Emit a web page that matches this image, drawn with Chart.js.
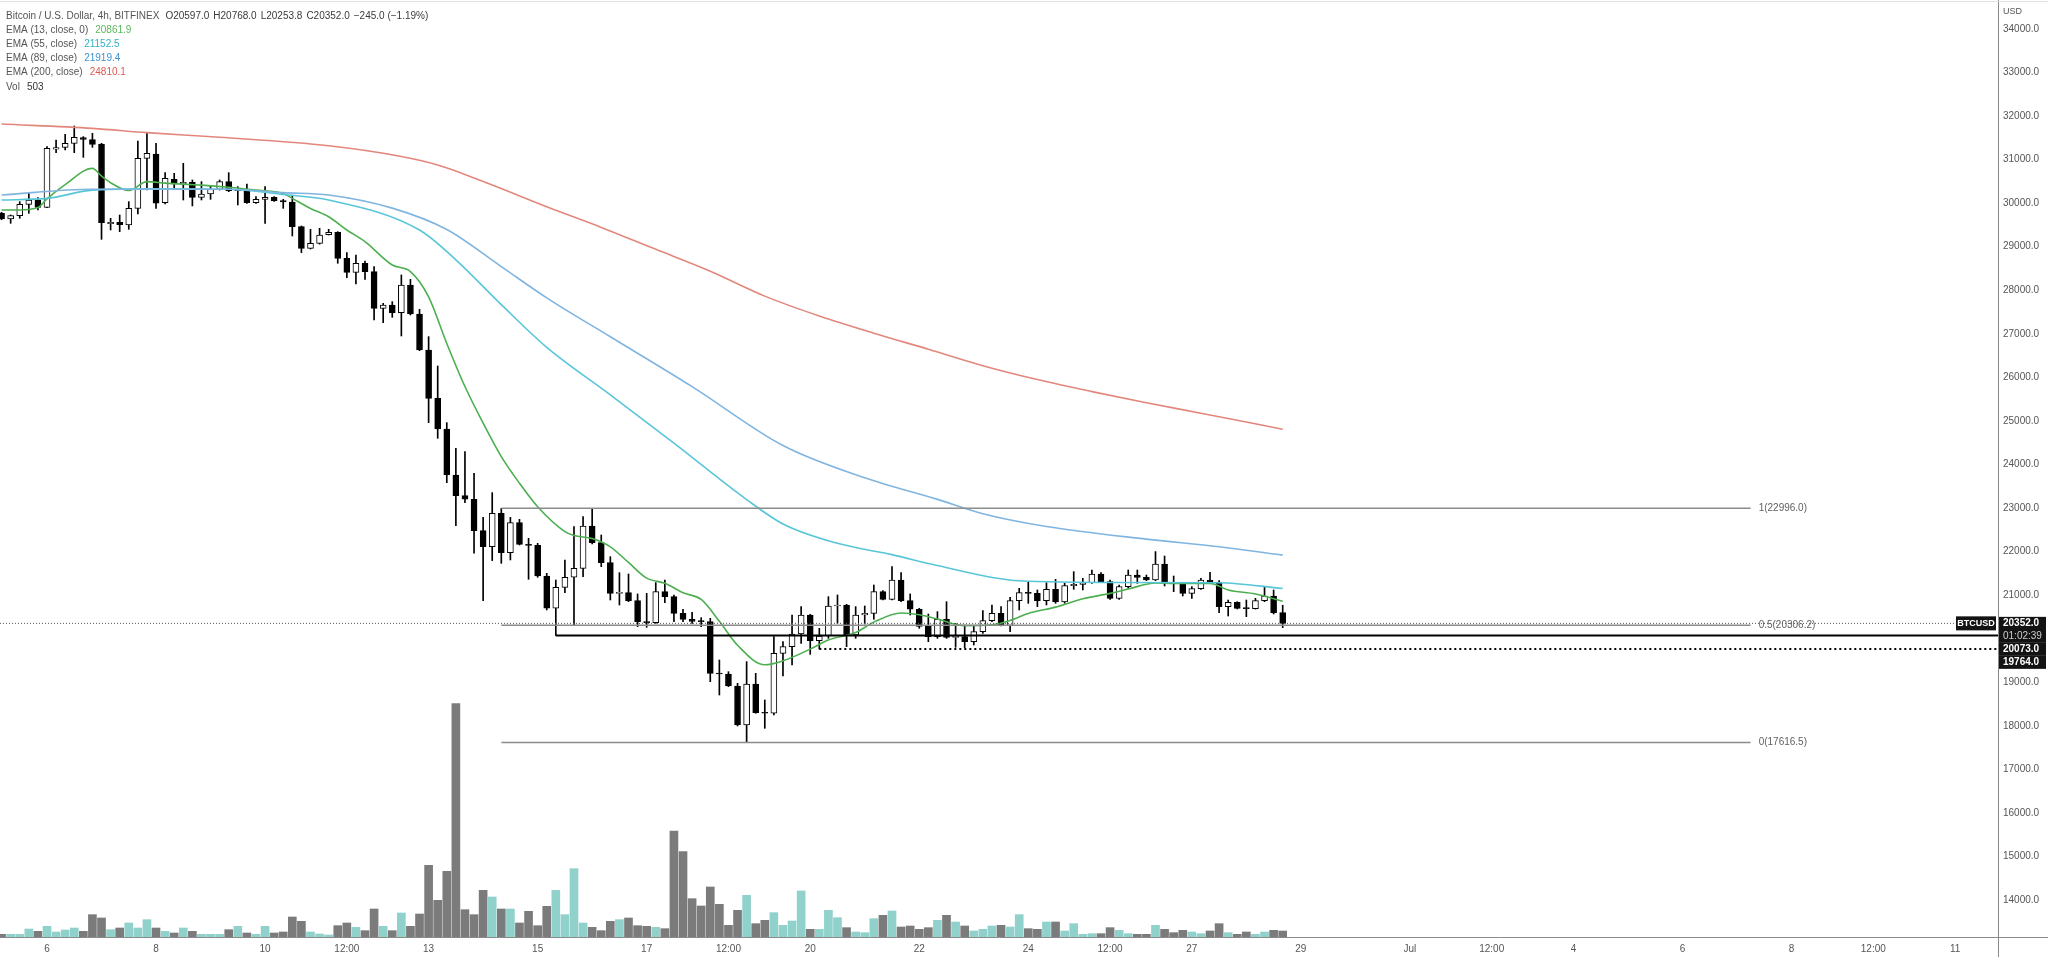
<!DOCTYPE html>
<html>
<head>
<meta charset="utf-8">
<script src="https://cdn.jsdelivr.net/npm/chart.js@4.4.1/dist/chart.umd.min.js"></script>
<style>
  html, body { margin: 0; padding: 0; background: #fff; overflow: hidden; }
  #wrap { position: relative; width: 2048px; height: 957px; }
</style>
</head>
<body>
<div id="wrap"><canvas id="chart"></canvas></div>
<script>
// BTCUSD Bitfinex 4h. x unit = hours since 5 Jun 00:00, candle i opens at firstCandleHour + 4*i
const firstCandleHour = 4;

const opens = [
  29768,29638,29714,29974,30074,29905,31240,31283,31375,31505,
  31459,31360,29530,29561,29500,29882,31030,31130,30013,30548,
  30441,30480,30135,30212,30319,30495,30288,30319,30013,30089,
  30135,30059,30028,29462,28964,29079,29278,29331,28734,28413,
  28620,28428,27586,27663,27487,28122,27456,26630,25520,24816,
  23759,23285,23201,22481,22114,22879,21976,22665,22167,22144,
  21440,20698,21180,21410,21616,22588,22206,21747,21042,21057,
  20874,20391,20368,21080,20965,20583,20445,20399,20391,19205,
  19190,18914,18019,18960,18302,18287,19664,19817,20108,20544,
  19955,20062,20751,20774,20085,20544,20583,21080,20904,21348,
  20874,20675,20284,20047,20444,20031,20047,19932,20161,20414,
  20582,20307,20873,21057,21040,20873,21133,20842,21217,21248,
  21286,21485,21309,20927,21194,21462,21409,21348,21715,21294,
  21270,21041,21148,21347,21300,20735,20835,20697,20690,20873,
  20980,20597
];
const highs = [
  29790,29730,30036,30227,30127,31298,31450,31580,31773,31528,
  31604,31375,29653,29729,30036,31428,31605,31375,30701,30686,
  30916,30533,30495,30395,30533,30701,30380,30441,30150,30380,
  30150,30089,30166,29477,29400,29423,29400,29347,28865,28811,
  28673,28543,27701,27739,28352,28252,27563,26936,26262,24961,
  24372,24295,23798,22787,23354,22994,22787,22741,22305,22190,
  21501,21348,21807,22573,22803,22996,22381,21884,21516,21486,
  21027,21042,21287,21348,21004,20675,20606,20483,20468,19511,
  19243,18975,19473,19205,18593,20047,19932,20544,20736,20560,
  20238,20965,21004,20790,20736,20751,21233,21103,21654,21517,
  21027,20698,20567,20620,20850,20352,20314,20291,20643,20773,
  20735,20949,21156,21309,21118,21286,21363,21271,21539,21386,
  21577,21516,21347,21233,21577,21577,21462,22000,21898,21439,
  21286,21194,21386,21524,21332,20888,20850,20888,20927,21194,
  21118,20768
];
const lows = [
  29620,29538,29653,29768,29844,29898,31160,31222,31160,31053,
  31283,29170,29385,29347,29400,29752,30303,29882,29982,30342,
  30074,29936,30074,30089,30303,30265,29960,29997,29997,29538,
  30043,29882,29247,28865,28949,29060,29270,28620,28290,28145,
  28252,27318,27257,27380,26951,27433,26614,24961,24601,23583,
  22596,23124,21961,20874,21793,21731,21808,22152,21364,21410,
  20660,20073,21057,20315,21425,22175,21654,20889,20774,20851,
  20277,20261,20353,20827,20391,20391,20353,20277,19013,18707,
  18899,17996,17616.5,18287,17942,18248,19144,19396,19894,19641,
  19764,20009,20353,19817,20009,20338,20445,20889,20889,20851,
  20544,20238,19932,20008,20008,19802,19790,19855,20123,20391,
  20291,20161,20659,20812,20735,20773,20812,20812,21133,21118,
  21271,21294,20904,20904,21156,21271,21332,21332,21210,21080,
  20980,20927,21133,21271,20597,20521,20682,20506,20680,20850,
  20567,20253.8
];
const closes = [
  29638,29714,29974,30074,29905,31260,31280,31375,31513,31467,
  31352,29553,29560,29507,29882,31030,31145,30000,30571,30441,
  30480,30135,30212,30319,30495,30288,30319,30013,30089,30135,
  30059,30028,29462,28964,29079,29270,29331,28734,28413,28620,
  28428,27586,27663,27487,28122,27456,26630,25520,24816,23759,
  23285,23201,22481,22114,22879,21976,22665,22167,22144,21440,
  20698,21180,21410,21616,22588,22206,21747,21042,21057,20874,
  20391,20368,21080,20965,20583,20445,20399,20391,19205,19190,
  18914,18019,18960,18302,18287,19664,19817,20108,20544,19955,
  20062,20751,20774,20085,20544,20583,21080,20904,21348,20874,
  20675,20284,20047,20444,20031,20047,19932,20161,20414,20582,
  20307,20873,21057,21040,20873,21133,20842,21217,21248,21286,
  21485,21309,20927,21194,21462,21409,21348,21715,21294,21270,
  21041,21148,21347,21300,20735,20835,20697,20690,20873,20980,
  20597,20352
];
const volumes = [
  224,224,224,672,476,896,420,588,756,476,
  1876,1596,616,756,1176,756,1456,756,476,336,
  756,476,224,224,224,616,896,336,224,896,
  336,420,1680,1316,420,252,168,952,1176,812,
  532,2352,896,532,2016,896,1932,6020,3080,5516,
  19600,2296,1876,3920,3360,2352,2352,1176,2156,952,
  2576,3920,1876,5740,1176,812,532,1316,1456,1596,
  952,896,812,700,8904,7168,3220,2604,4200,2744,
  980,2240,3500,1120,1400,2044,980,1344,3864,644,
  644,2240,1624,784,420,364,1540,1820,2184,840,
  924,644,784,1400,1820,1260,924,504,644,924,
  980,840,1876,700,644,1260,1260,504,1120,224,
  280,280,784,560,280,224,224,980,644,364,
  560,420,280,504,1120,364,224,420,224,420,
  560,503
];

// EMA curves: candle index -> value
const ema13Idx = [0,2,4,5,7,10,11,12,14,16,18,22,25,28,31,32,34,36,38,40,43,45,47,49,51,53,55,57,59,62,63,65,67,69,71,73,75,77,79,81,84,86,89,91,94,96,99,101,103,106,109,111,113,116,119,122,124,127,129,133,135,138,141];
const ema13Val = [29845,29845,29900,30100,30425,30800,30620,30470,30290,30495,30460,30415,30365,30300,30225,30110,29880,29690,29385,29117,28580,28430,27850,26780,25790,24950,24180,23570,23030,22460,22370,22300,22110,21750,21390,21272,21055,20900,20400,19850,19400,19491,19760,19970,20140,20380,20590,20550,20450,20300,20320,20420,20580,20725,20915,21040,21140,21280,21271,21271,21120,21026,20862];
const ema55Idx = [0,5,10,16,25,31,36,46,50,55,60,67,74,82,86,92,98,103,112,123,134,141];
const ema55Val = [30074,30110,30300,30330,30319,30200,30074,29385,28700,27670,26690,25600,24490,23195,22635,22190,21930,21680,21330,21290,21286,21152];
const ema89Idx = [0,10,25,31,36,43,49,55,60,67,76,86,95,103,108,115,126,134,141];
const ema89Val = [30189,30319,30319,30242,30189,29887,29396,28544,27827,26933,25788,24435,23693,23199,22871,22577,22287,22112,21919];
const ema200Idx = [0,10,16,24,36,44,48,54,60,66,72,78,84,90,96,102,108,114,120,126,132,141];
const ema200Val = [31819,31719,31620,31515,31320,31074,30879,30417,29917,29444,28940,28438,27866,27409,27015,26646,26269,25950,25674,25418,25178,24810];

const emaNames = ['EMA (13, close, 0)', 'EMA (55, close)', 'EMA (89, close)', 'EMA (200, close)'];
const emaLast = ['20861.9', '21152.5', '21919.4', '24810.1'];

// drawings on the chart
const fibRatios = ['1', '0.5', '0'];
const fibLevels = [22996.0, 20306.2, 17616.5];
const fibStartCandle = 55;
const fibEndHour = 774;
const rayLevel = 20073.0, rayStartCandle = 61;
const dotLevel = 19764.0, dotStartCandle = 90;
const lastClose = 20352.0;
const countdown = '01:02:39';
const symbolTag = 'BTCUSD';
const legendTitle = 'Bitcoin / U.S. Dollar, 4h, BITFINEX';
const legendOhlc = ['O20597.0', 'H20768.0', 'L20253.8', 'C20352.0', '\u2212245.0 (\u22121.19%)'];
const legendVol = '503';

// axes
const yTicks = [14000,15000,16000,17000,18000,19000,20000,21000,22000,23000,24000,25000,26000,27000,28000,29000,30000,31000,32000,33000,34000];
const xTickHours = [24,72,120,156,192,240,288,324,360,408,456,492,528,576,624,660,696,744,792,828,864];
const xTickLabels = ['6','8','10','12:00','13','15','17','12:00','20','22','24','12:00','27','29','Jul','12:00','4','6','8','12:00','11'];

const FONT = '"Liberation Sans", Arial, sans-serif';
const UP_VOL = '#90d1cb', DOWN_VOL = '#7b7b7b';
const EMA_LINE = ['#4caf50', '#58c6d8', '#80b5e0', '#e3877d'];
const EMA_TEXT = ['#5cb85c', '#2fb3c5', '#3d92cf', '#df5a50'];

const hourOf = i => firstCandleHour + 4 * i;
const xMin = 3.31, xMax = 882.9;

const wickData = highs.map((h, i) => ({ x: hourOf(i), y: [lows[i], h] }));
const bodyData = opens.map((o, i) => ({ x: hourOf(i), y: [o, closes[i]] }));
const volData = volumes.map((v, i) => ({ x: hourOf(i), y: v }));
const isUp = closes.map((c, i) => c >= opens[i]);

function emaSet(idx, val, color, label) {
  return {
    type: 'line', label, order: 1,
    data: idx.map((k, j) => ({ x: hourOf(k), y: val[j] })),
    borderColor: color, borderWidth: 1.6, pointRadius: 0,
    cubicInterpolationMode: 'monotone', fill: false
  };
}
function hLine(x0, x1, level, color, width, dash, order) {
  return {
    type: 'line', order,
    data: [{ x: x0, y: level }, { x: x1, y: level }],
    borderColor: color, borderWidth: width, borderDash: dash,
    pointRadius: 0, fill: false
  };
}

const datasets = [
  {
    type: 'bar', label: 'Vol', order: 4, yAxisID: 'yv',
    data: volData, grouped: false, barThickness: 8,
    backgroundColor: isUp.map(u => u ? UP_VOL : DOWN_VOL)
  },
  {
    type: 'bar', label: 'wick', order: 3,
    data: wickData, grouped: false, barThickness: 1,
    backgroundColor: '#000'
  },
  {
    type: 'bar', label: 'body', order: 2,
    data: bodyData, grouped: false, barThickness: 6, minBarLength: 1,
    backgroundColor: isUp.map(u => u ? '#ffffff' : '#000000'),
    borderColor: '#000', borderWidth: 1, borderSkipped: false
  },
  emaSet(ema200Idx, ema200Val, EMA_LINE[3], 'EMA200'),
  emaSet(ema89Idx, ema89Val, EMA_LINE[2], 'EMA89'),
  emaSet(ema55Idx, ema55Val, EMA_LINE[1], 'EMA55'),
  emaSet(ema13Idx, ema13Val, EMA_LINE[0], 'EMA13'),
  hLine(xMin, xMax, lastClose, '#555', 1, [1, 2], 0),
  ...fibLevels.map(lv => hLine(hourOf(fibStartCandle), fibEndHour, lv, '#8c8c8c', 1.5, [], 0)),
  hLine(hourOf(rayStartCandle), xMax, rayLevel, '#000', 2, [], 0),
  hLine(hourOf(dotStartCandle), xMax, dotLevel, '#000', 2, [2, 3], 0)
];

const overlay = {
  id: 'overlay',
  afterDraw(chart) {
    const { ctx, chartArea: a } = chart;
    const x = chart.scales.x, y = chart.scales.y;
    ctx.save();

    // frame extensions into the axis corner, faint top rule
    ctx.strokeStyle = '#8a8a8a'; ctx.lineWidth = 1;
    ctx.beginPath();
    ctx.moveTo(a.right, a.bottom + 0.5); ctx.lineTo(chart.width, a.bottom + 0.5);
    ctx.moveTo(a.right + 0.5, a.bottom); ctx.lineTo(a.right + 0.5, chart.height);
    ctx.stroke();
    ctx.strokeStyle = '#e2e2e2';
    ctx.beginPath(); ctx.moveTo(0, 1.5); ctx.lineTo(chart.width, 1.5); ctx.stroke();

    ctx.textBaseline = 'middle';
    ctx.textAlign = 'left';

    // currency
    ctx.font = '9px ' + FONT; ctx.fillStyle = '#555';
    ctx.fillText('USD', a.right + 5, 12);

    // fib labels
    ctx.font = '10px ' + FONT; ctx.fillStyle = '#606060';
    fibLevels.forEach((lv, k) => {
      ctx.fillText(fibRatios[k] + '(' + lv.toFixed(1) + ')', x.getPixelForValue(fibEndHour) + 8, y.getPixelForValue(lv));
    });

    // symbol tag on the last price line
    const py = y.getPixelForValue(lastClose);
    ctx.fillStyle = '#131313';
    ctx.fillRect(a.right - 42, py - 7, 40, 14);
    ctx.fillStyle = '#fff'; ctx.font = 'bold 9px ' + FONT; ctx.textAlign = 'center';
    ctx.fillText(symbolTag, a.right - 22, py + 0.5);

    // price tags on the axis
    ctx.textAlign = 'left';
    const tags = [
      { price: lastClose, lines: [lastClose.toFixed(1), countdown] },
      { price: rayLevel, lines: [rayLevel.toFixed(1)] },
      { price: dotLevel, lines: [dotLevel.toFixed(1)] }
    ];
    let prevBottom = -Infinity;
    tags.forEach(t => {
      const h = 13 * t.lines.length;
      const top = Math.max(y.getPixelForValue(t.price) - 6.5, prevBottom);
      ctx.fillStyle = '#131313';
      ctx.fillRect(a.right + 1, top, chart.width - a.right - 3, h);
      t.lines.forEach((s, j) => {
        ctx.fillStyle = j ? '#cfcfcf' : '#fff';
        ctx.font = (j ? '' : 'bold ') + '10px ' + FONT;
        ctx.fillText(s, a.right + 5, top + 6.5 + 13 * j);
      });
      prevBottom = top + h;
    });

    // legend block, top-left
    const run = (parts, yy) => {
      let cx = 6;
      parts.forEach(([txt, col, gap]) => {
        ctx.fillStyle = col;
        ctx.fillText(txt, cx, yy);
        cx += ctx.measureText(txt).width + (gap || 0);
      });
    };
    ctx.font = '10px ' + FONT;
    run([[legendTitle, '#555', 6]].concat(legendOhlc.map(s => [s, '#3a3a3a', 4])), 16);
    emaNames.forEach((n, k) => run([[n, '#555', 7], [emaLast[k], EMA_TEXT[k]]], 30 + 14.2 * k));
    run([['Vol', '#555', 7], [legendVol, '#333']], 87);

    ctx.restore();
  }
};

new Chart(document.getElementById('chart'), {
  type: 'bar',
  data: { datasets },
  options: {
    responsive: true,
    maintainAspectRatio: false,
    devicePixelRatio: 1,
    animation: false,
    layout: { padding: 0 },
    plugins: { legend: { display: false }, tooltip: { enabled: false } },
    scales: {
      x: {
        type: 'linear', min: xMin, max: xMax, offset: false,
        grid: { display: false, drawTicks: false },
        border: { display: true, color: '#8a8a8a' },
        ticks: {
          color: '#555', font: { family: FONT, size: 10 }, padding: 6,
          maxRotation: 0, autoSkip: false,
          callback: v => xTickLabels[xTickHours.indexOf(v)]
        },
        afterBuildTicks: s => { s.ticks = xTickHours.map(v => ({ value: v })); },
        afterFit: s => { s.height = 20; s.paddingLeft = 0; s.paddingRight = 0; }
      },
      y: {
        type: 'linear', position: 'right', min: 13150, max: 34666, beginAtZero: false,
        grid: { display: false, drawTicks: false },
        border: { display: true, color: '#8a8a8a' },
        ticks: {
          color: '#555', font: { family: FONT, size: 10 }, padding: 5, autoSkip: false,
          callback: v => Number(v).toFixed(1)
        },
        afterBuildTicks: s => { s.ticks = yTicks.map(v => ({ value: v })); },
        afterFit: s => { s.width = 50; s.paddingTop = 0; s.paddingBottom = 0; }
      },
      yv: {
        type: 'linear', display: false, min: 0, max: 78700, beginAtZero: true
      }
    }
  },
  plugins: [overlay]
});
</script>
</body>
</html>
